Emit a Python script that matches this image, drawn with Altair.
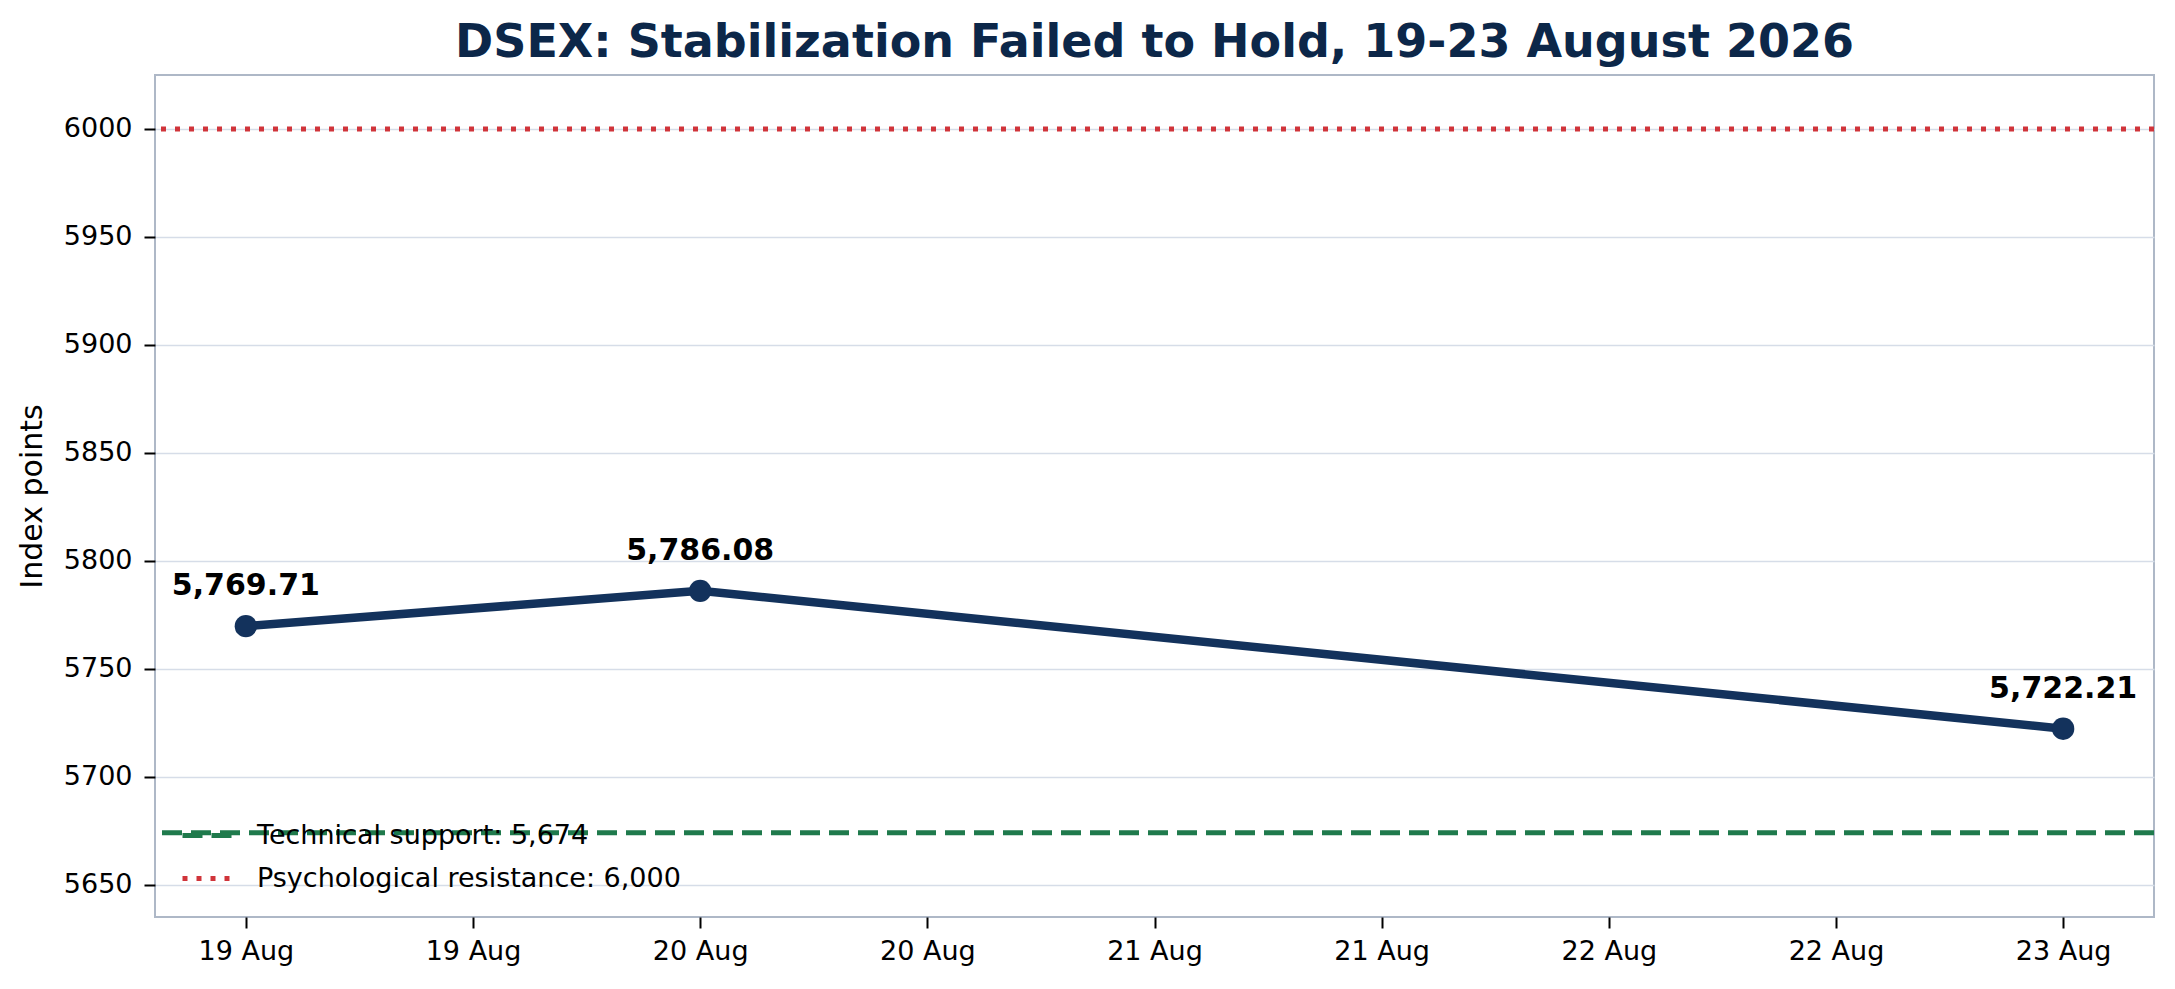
import pandas as pd
import altair as alt

# --- data ---
DATES = ["2026-08-19T00:00:00", "2026-08-20T00:00:00", "2026-08-23T00:00:00"]
CLOSES = [5769.71, 5786.08, 5722.21]
CLOSE_LABELS = ["5,769.71", "5,786.08", "5,722.21"]

LEVEL_NAMES = ["Technical support: 5,674", "Psychological resistance: 6,000"]
LEVEL_VALUES = [5674, 6000]
LEVEL_COLORS = ["#1f7a4c", "#d0343a"]
LEVEL_DASHES = [[20, 9], [5, 9]]

X_TICKS = [
    "2026-08-19 00:00", "2026-08-19 12:00", "2026-08-20 00:00", "2026-08-20 12:00",
    "2026-08-21 00:00", "2026-08-21 12:00", "2026-08-22 00:00", "2026-08-22 12:00",
    "2026-08-23 00:00",
]
X_RANGE = ["2026-08-18 19:12", "2026-08-23 04:48"]
Y_TICKS = [5650, 5700, 5750, 5800, 5850, 5900, 5950, 6000]
Y_RANGE = [5635, 6025]

FONT = "DejaVu Sans"
NAVY = "#13325c"


def as_datetime(s):
    t = pd.Timestamp(s)
    return alt.DateTime(year=t.year, month=t.month, date=t.day, hours=t.hour, minutes=t.minute)


prices = pd.DataFrame({"date": DATES, "close": CLOSES, "label": CLOSE_LABELS})
levels = pd.DataFrame({"name": LEVEL_NAMES, "value": LEVEL_VALUES})

x_enc = alt.X(
    "date:T",
    scale=alt.Scale(domain=[as_datetime(s) for s in X_RANGE], nice=False),
    axis=alt.Axis(
        values=[as_datetime(s) for s in X_TICKS], format="%d %b", title=None,
        labelFontSize=27, labelPadding=10, tickSize=11, tickWidth=2, tickColor="#000000",
        labelColor="#000000", grid=False, domain=False,
    ),
)
y_enc = alt.Y(
    "close:Q",
    scale=alt.Scale(domain=Y_RANGE, nice=False, zero=False),
    axis=alt.Axis(
        values=Y_TICKS, format="d", title="Index points", titleFontSize=30,
        titleFontWeight="normal", titleColor="#000000", titlePadding=16,
        labelFontSize=27, labelPadding=12, tickSize=11, tickWidth=2,
        tickColor="#000000", labelColor="#000000",
        grid=True, gridColor="#d6dde8", gridWidth=1.6, domain=False,
    ),
)

base = alt.Chart(prices).encode(x=x_enc, y=y_enc)

line = base.mark_line(color=NAVY, strokeWidth=8.5)
dots = base.mark_circle(color=NAVY, size=500, opacity=1)
labels = base.mark_text(
    font=FONT, fontSize=30, fontWeight="bold", color="#000000",
    baseline="alphabetic", align="center", dy=-31,
).encode(text="label:N")

legend = alt.Legend(
    orient="none", legendX=25, legendY=732, title=None,
    symbolType="stroke", symbolSize=2704, symbolStrokeWidth=5,
    labelFont=FONT, labelFontSize=27, labelColor="#000000", labelOffset=20,
    labelLimit=0, rowPadding=1,
)
rules = alt.Chart(levels).mark_rule(strokeWidth=5).encode(
    y=alt.Y("value:Q", scale=alt.Scale(domain=Y_RANGE, nice=False, zero=False)),
    color=alt.Color("name:N", scale=alt.Scale(domain=LEVEL_NAMES, range=LEVEL_COLORS), legend=legend),
    strokeDash=alt.StrokeDash("name:N", scale=alt.Scale(domain=LEVEL_NAMES, range=LEVEL_DASHES), legend=legend),
)

chart = alt.layer(rules, line, dots, labels).properties(
    width=1999,
    height=842,
    padding={"left": 147, "top": 67, "right": 5, "bottom": 50},
    autosize=alt.AutoSizeParams(type="none"),
    title=alt.TitleParams(
        "DSEX: Stabilization Failed to Hold, 19-23 August 2026",
        font=FONT, fontSize=46, fontWeight="bold", color="#0c2749",
        anchor="middle", baseline="alphabetic", offset=-28,
    ),
).configure(font=FONT).configure_axis(
    labelFont=FONT, titleFont=FONT,
).configure_view(stroke="#aeb8c7", strokeWidth=2)

chart.save("out.html", embed_options={"renderer": "svg", "actions": False})
